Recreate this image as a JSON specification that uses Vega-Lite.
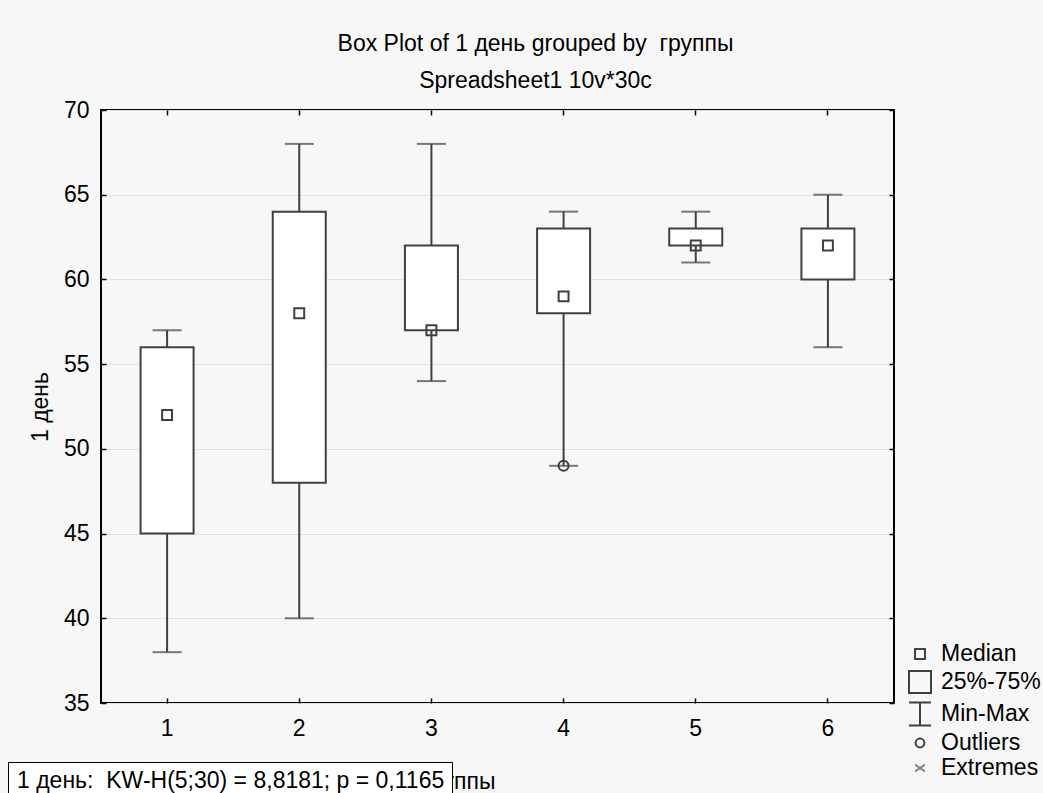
{
  "$schema": "https://vega.github.io/schema/vega-lite/v6.json",
  "width": 793,
  "height": 593,
  "autosize": {"type": "none"},
  "padding": {"left": 101, "top": 110, "right": 149, "bottom": 90},
  "background": "#f7f7f7",
  "title": {
    "text": "Box Plot of 1 день grouped by \u00a0группы",
    "subtitle": "Spreadsheet1 10v*30c",
    "anchor": "middle",
    "frame": "group",
    "dx": 38,
    "offset": 6,
    "subtitlePadding": 14,
    "font": "Liberation Sans",
    "fontSize": 23,
    "fontWeight": "normal",
    "color": "black",
    "subtitleFont": "Liberation Sans",
    "subtitleFontSize": 23,
    "subtitleColor": "black"
  },
  "data": {
    "values": [
      {"g": "1", "min": 38, "q1": 45, "med": 52, "q3": 56, "max": 57, "kind": "Median"},
      {"g": "2", "min": 40, "q1": 48, "med": 58, "q3": 64, "max": 68, "kind": "Median"},
      {"g": "3", "min": 54, "q1": 57, "med": 57, "q3": 62, "max": 68, "kind": "Median"},
      {"g": "4", "min": 49, "q1": 58, "med": 59, "q3": 63, "max": 64, "kind": "Median"},
      {"g": "5", "min": 61, "q1": 62, "med": 62, "q3": 63, "max": 64, "kind": "Median"},
      {"g": "6", "min": 56, "q1": 60, "med": 62, "q3": 63, "max": 65, "kind": "Median"}
    ]
  },
  "resolve": {"axis": {"x": "independent", "y": "independent"}},
  "layer": [
    {
      "mark": {"type": "rule", "color": "#404040", "strokeWidth": 2},
      "encoding": {
        "x": {"field": "g", "type": "ordinal", "axis": null, "scale": {"paddingInner": 0, "paddingOuter": 0}},
        "y": {"field": "min", "type": "quantitative", "axis": null, "scale": {"domain": [35, 70], "nice": false, "zero": false}},
        "y2": {"field": "q1"}
      }
    },
    {
      "mark": {"type": "rule", "color": "#404040", "strokeWidth": 2},
      "encoding": {
        "x": {"field": "g", "type": "ordinal", "axis": null},
        "y": {"field": "q3", "type": "quantitative", "axis": null},
        "y2": {"field": "max"}
      }
    },
    {
      "mark": {"type": "tick", "color": "#404040", "size": 29, "thickness": 2, "orient": "horizontal"},
      "encoding": {
        "x": {"field": "g", "type": "ordinal", "axis": null},
        "y": {"field": "min", "type": "quantitative", "axis": null}
      }
    },
    {
      "mark": {"type": "tick", "color": "#404040", "size": 29, "thickness": 2, "orient": "horizontal"},
      "encoding": {
        "x": {"field": "g", "type": "ordinal", "axis": null},
        "y": {"field": "max", "type": "quantitative", "axis": null}
      }
    },
    {
      "mark": {"type": "bar", "fill": "white", "stroke": "#404040", "strokeWidth": 2, "size": 53},
      "encoding": {
        "x": {
          "field": "g", "type": "ordinal", "title": "группы",
          "axis": {
            "orient": "bottom", "labelAngle": 0, "tickSize": -5, "labelPadding": 19,
            "domain": false, "grid": false, "titleX": 357, "titleY": 85,
            "titleBaseline": "alphabetic", "titleAlign": "center"
          }
        },
        "y": {
          "field": "q1", "type": "quantitative", "title": "1 день",
          "axis": {
            "orient": "left", "values": [35, 40, 45, 50, 55, 60, 65, 70], "tickSize": -5,
            "labelPadding": 17, "domain": false, "grid": true, "gridColor": "#e2e2e2",
            "titleX": -61, "titleY": 296.5, "titleBaseline": "middle", "titleAlign": "center", "titleAngle": -90
          }
        },
        "y2": {"field": "q3"}
      }
    },
    {
      "mark": {"type": "point", "filled": false, "strokeWidth": 2, "size": 484, "opacity": 1},
      "encoding": {
        "x": {
          "field": "g", "type": "ordinal", "title": null,
          "axis": {"orient": "top", "labels": false, "tickSize": -5, "domain": false, "grid": false}
        },
        "y": {
          "field": "med", "type": "quantitative", "title": null,
          "axis": {"orient": "right", "labels": false, "values": [35, 40, 45, 50, 55, 60, 65, 70], "tickSize": -5, "domain": false, "grid": false}
        },
        "shape": {
          "field": "kind", "type": "nominal",
          "scale": {
            "domain": ["Median", "25%-75%", "Min-Max", "Outliers", "Extremes"],
            "range": [
              "M-0.45,-0.45H0.45V0.45H-0.45Z",
              "M-1,-1H1V1H-1Z",
              "M-1,-1.05H1M0,-1.05V1.05M-1,1.05H1",
              "M-0.4,0A0.4,0.4 0 1,1 0.4,0A0.4,0.4 0 1,1 -0.4,0Z",
              "M-0.45,-0.3L0.45,0.3M-0.45,0.3L0.45,-0.3"
            ]
          },
          "legend": {
            "title": null, "orient": "none", "legendX": 807, "legendY": 532, "padding": 0,
            "symbolSize": 484, "symbolStrokeWidth": 2, "symbolFillColor": "transparent",
            "labelFontSize": 23, "labelColor": "black", "labelOffset": 9, "rowPadding": 1
          }
        },
        "stroke": {
          "field": "kind", "type": "nominal",
          "scale": {
            "domain": ["Median", "25%-75%", "Min-Max", "Outliers", "Extremes"],
            "range": ["#404040", "#404040", "#404040", "#404040", "#8a8a8a"]
          },
          "legend": {
            "title": null, "orient": "none", "legendX": 807, "legendY": 532, "padding": 0,
            "symbolSize": 484, "symbolStrokeWidth": 2, "symbolFillColor": "transparent",
            "labelFontSize": 23, "labelColor": "black", "labelOffset": 9, "rowPadding": 1
          }
        }
      }
    },
    {
      "data": {"values": [{"g": "4", "value": 49, "kind": "Outliers"}]},
      "mark": {"type": "point", "filled": false, "strokeWidth": 2, "size": 625, "opacity": 1},
      "encoding": {
        "x": {"field": "g", "type": "ordinal", "axis": null},
        "y": {"field": "value", "type": "quantitative", "axis": null},
        "shape": {"field": "kind", "type": "nominal"},
        "stroke": {"field": "kind", "type": "nominal"}
      }
    },
    {
      "data": {"values": [{"stat": "1 день:\u00a0 KW-H(5;30) = 8,8181; p = 0,1165"}]},
      "mark": {"type": "point", "opacity": 0},
      "encoding": {
        "color": {
          "field": "stat", "type": "nominal",
          "scale": {"range": ["#ffffff"]},
          "legend": {
            "title": null, "orient": "none", "legendX": -93, "legendY": 652, "padding": 7,
            "strokeColor": "black", "fillColor": "white",
            "labelFontSize": 23, "labelColor": "black", "labelLimit": 1000,
            "symbolSize": 1, "symbolOpacity": 0, "symbolStrokeWidth": 0, "labelOffset": -21,
            "encode": {"legend": {"update": {"strokeWidth": {"value": 2}}}}
          }
        }
      }
    }
  ],
  "config": {
    "font": "Liberation Sans",
    "view": {"stroke": "black", "strokeWidth": 2, "fill": "white"},
    "axis": {
      "labelFont": "Liberation Sans", "labelFontSize": 23, "labelColor": "black",
      "titleFont": "Liberation Sans", "titleFontSize": 23, "titleColor": "black", "titleFontWeight": "normal",
      "tickColor": "black", "tickWidth": 1.5
    },
    "legend": {"labelFont": "Liberation Sans"}
  }
}
